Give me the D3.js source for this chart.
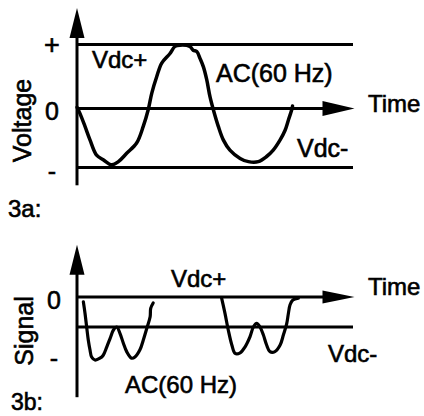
<!DOCTYPE html>
<html>
<head>
<meta charset="utf-8">
<script src="https://cdn.jsdelivr.net/npm/d3@7"></script>
<style>
  html, body { margin: 0; padding: 0; background: #fff; }
  svg { display: block; }
  text { font-family: "Liberation Sans", Arial, Helvetica, sans-serif; fill: #000; stroke: #000; stroke-width: 0.6px; }
</style>
</head>
<body>
<svg id="chart" width="424" height="416"></svg>
<script>
// ---- Figure 3a: AC voltage between the DC rails ----
const acTime = [0, 1.1, 2.9, 4.7, 7.1, 9.5, 12.6, 15.0, 18.0, 21.6, 24.0, 25.8, 27.1, 28.9, 30.7, 33.7,
                35.5, 37.3, 40.9, 42.1, 43.4, 44.6, 45.8, 47.0, 48.2, 49.4, 51.2, 53.0, 55.4, 59.1,
                62.1, 65.7, 68.7, 71.1, 73.6, 75.4, 76.6, 77.8, 78.1];
const acVolt = [0.02, -0.08, -0.28, -0.49, -0.73, -0.80, -0.88, -0.83, -0.70, -0.54, -0.28, -0.02, 0.24, 0.50, 0.71, 0.86,
                0.97, 0.99, 0.97, 0.91, 0.89, 0.78, 0.65, 0.45, 0.18, -0.02, -0.28, -0.49, -0.65, -0.78,
                -0.83, -0.83, -0.75, -0.65, -0.49, -0.34, -0.18, -0.02, 0.04];
const railValuesA = [1, 0, -0.92];          // Vdc+, zero, Vdc-
const levelLabelsA = ["+", "0", "-"];

// ---- Figure 3b: rectified signal pulses ----
const pulse1Time = [2.3, 2.9, 3.5, 4.1, 4.7, 5.3, 6.5, 8.3, 9.5, 10.8, 12.0, 13.2, 14.4, 15.6, 16.8, 18.0,
                    19.8, 21.0, 22.8, 24.0, 25.3, 26.5, 26.7, 27.6];
const pulse1Sig  = [-0.08, -0.27, -0.50, -0.72, -0.88, -1.00, -1.05, -1.02, -0.97, -0.83, -0.69, -0.55, -0.50, -0.61, -0.77, -0.91,
                    -1.02, -1.00, -0.88, -0.72, -0.52, -0.33, -0.19, -0.10];
const pulse2Time = [52.4, 53.6, 54.8, 56.1, 57.3, 59.1, 60.9, 62.7, 63.9, 65.1, 66.3, 67.5, 68.7, 69.9, 71.7,
                    73.6, 74.8, 76.0, 76.6, 77.2, 78.2, 80.2];
const pulse2Sig  = [-0.02, -0.27, -0.55, -0.80, -0.94, -0.93, -0.83, -0.66, -0.50, -0.44, -0.50, -0.63, -0.80, -0.91, -0.91,
                    -0.80, -0.63, -0.44, -0.27, -0.13, -0.05, -0.02];
const railValuesB = [0, -0.5];
const levelLabelsB = ["0", "-"];
const levelValuesB = [0, -1];

const svg = d3.select("#chart");

const x = d3.scaleLinear().domain([0, 100]).range([77, 353]);
const yA = d3.scaleLinear().domain([-1, 1]).range([172.5, 44.5]);
const yB = d3.scaleLinear().domain([-1, 0]).range([357, 297]);

const stroke = "#000";

function zip(ts, vs) { return ts.map((t, i) => [t, vs[i]]); }

function drawPanel(g, y, axisLo, axisHi, rails, arrowHalf) {
  // vertical axis with arrow head
  const tipY = y(axisHi);
  g.append("line")
    .attr("x1", x(0)).attr("x2", x(0))
    .attr("y1", y(axisLo)).attr("y2", tipY + 26)
    .attr("stroke", stroke).attr("stroke-width", 3);
  g.append("path")
    .attr("d", `M${x(0)},${tipY} L${x(0) - 7.5},${tipY + 30} L${x(0) + 7.5},${tipY + 30} Z`)
    .attr("fill", stroke);

  // horizontal rails; the zero rail is the time axis with an arrow
  rails.forEach(v => {
    const isZero = v === 0;
    g.append("line")
      .attr("x1", x(0)).attr("x2", isZero ? x(100) - 28 : x(100))
      .attr("y1", y(v)).attr("y2", y(v))
      .attr("stroke", stroke).attr("stroke-width", 3);
    if (isZero) {
      const tipX = x(100) + 1.5;
      g.append("path")
        .attr("d", `M${tipX},${y(0)} L${tipX - 32},${y(0) - arrowHalf} L${tipX - 32},${y(0) + arrowHalf} Z`)
        .attr("fill", stroke);
    }
  });
}

const line = d3.line()
  .x(d => x(d[0]))
  .y(d => d[1])
  .curve(d3.curveCatmullRom.alpha(0.5));

// Panel 3a
const gA = svg.append("g");
drawPanel(gA, yA, -1.2, 1.57, railValuesA, 7.5);
gA.append("path")
  .datum(zip(acTime, acVolt).map(d => [d[0], yA(d[1])]))
  .attr("d", line)
  .attr("fill", "none").attr("stroke", stroke).attr("stroke-width", 3.5)
  .attr("stroke-linejoin", "round").attr("stroke-linecap", "round");

// Panel 3b
const gB = svg.append("g");
drawPanel(gB, yB, -1.67, 0.87, railValuesB, 6.5);
[zip(pulse1Time, pulse1Sig), zip(pulse2Time, pulse2Sig)].forEach(p => {
  gB.append("path")
    .datum(p.map(d => [d[0], yB(d[1])]))
    .attr("d", line)
    .attr("fill", "none").attr("stroke", stroke).attr("stroke-width", 3.2)
    .attr("stroke-linejoin", "round").attr("stroke-linecap", "round");
});

// Level labels
const levelOffsetA = [9, 11, 13];
levelLabelsA.forEach((t, i) => {
  svg.append("text")
    .attr("x", 52).attr("y", yA(railValuesA[i]) + levelOffsetA[i])
    .attr("text-anchor", "middle")
    .attr("font-size", i === 0 ? 27 : 25)
    .text(t);
});
const levelOffsetB = [12, 10];
levelLabelsB.forEach((t, i) => {
  svg.append("text")
    .attr("x", 54).attr("y", yB(levelValuesB[i]) + levelOffsetB[i])
    .attr("text-anchor", "middle")
    .attr("font-size", 25)
    .text(t);
});

// Axis titles (rotated)
svg.append("text")
  .attr("transform", "translate(31,120.5) rotate(-90)")
  .attr("text-anchor", "middle").attr("font-size", 25)
  .text("Voltage");
svg.append("text")
  .attr("transform", "translate(33,331) rotate(-90)")
  .attr("text-anchor", "middle").attr("font-size", 25)
  .text("Signal");

// Annotations
const notes = [
  { t: "Vdc+",      x: 92,  y: 68,  s: 24 },
  { t: "AC(60 Hz)", x: 216, y: 81.5, s: 25 },
  { t: "Time",      x: 368, y: 112, s: 24 },
  { t: "Vdc-",      x: 297, y: 157, s: 25 },
  { t: "3a:",       x: 8,   y: 217, s: 24 },
  { t: "Vdc+",      x: 171, y: 287, s: 24 },
  { t: "Time",      x: 368, y: 295, s: 24 },
  { t: "Vdc-",      x: 328, y: 362, s: 24 },
  { t: "AC(60 Hz)", x: 125, y: 393, s: 24 },
  { t: "3b:",       x: 11,  y: 410, s: 23 }
];
notes.forEach(n => {
  svg.append("text")
    .attr("x", n.x).attr("y", n.y)
    .attr("font-size", n.s)
    .text(n.t);
});
</script>
</body>
</html>
